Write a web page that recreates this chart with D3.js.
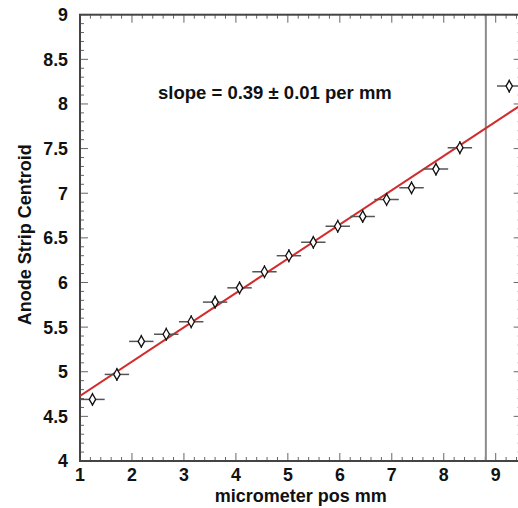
<!DOCTYPE html>
<html><head><meta charset="utf-8">
<script src="https://cdn.jsdelivr.net/npm/d3@7"></script>
<style>
html,body{margin:0;padding:0;background:#fff;}
svg{display:block;font-family:Arial,"Liberation Sans",Helvetica,sans-serif;}
</style></head>
<body>
<svg id="c" width="518" height="508"></svg>
<script>
// ---- data ----
const xPos   = [1.24, 1.71, 2.18, 2.66, 3.14, 3.60, 4.07, 4.55, 5.02, 5.49, 5.96, 6.44, 6.90, 7.38, 7.85, 8.31, 9.26];
const yCent  = [4.69, 4.97, 5.34, 5.42, 5.56, 5.78, 5.94, 6.12, 6.30, 6.45, 6.63, 6.74, 6.93, 7.06, 7.27, 7.51, 8.20];
const xErr   = [0.235,0.235,0.235,0.235,0.235,0.235,0.235,0.235,0.235,0.235,0.235,0.235,0.235,0.235,0.235,0.235,0.235];
const yErr   = [0.03, 0.03, 0.03, 0.03, 0.03, 0.03, 0.03, 0.03, 0.03, 0.03, 0.03, 0.03, 0.03, 0.03, 0.03, 0.03, 0.03];
const fitIntercept = 4.346;
const fitSlope = 0.384;
const fitRange = [1, 9.5];
const cutX = 8.81;
const xTicks = [1, 2, 3, 4, 5, 6, 7, 8, 9];
const yTicks = [4, 4.5, 5, 5.5, 6, 6.5, 7, 7.5, 8, 8.5, 9];
const slopeLabel = "slope = 0.39 \u00b1 0.01 per mm";
const xTitle = "micrometer pos mm";
const yTitle = "Anode Strip Centroid";

// ---- layout ----
const L = 80, R = 521.7, T = 14.7, B = 461;
const svg = d3.select("#c");
const x = d3.scaleLinear().domain([1, 9.5]).range([L, R]);
const y = d3.scaleLinear().domain([4, 9]).range([B, T]);

const frameCol = "#444";
const minorX = d3.range(1, 9.5001, 0.2).map(v => +v.toFixed(2));
const minorY = d3.range(4, 9.0001, 0.1).map(v => +v.toFixed(2));

svg.append("clipPath").attr("id","pc").append("rect")
  .attr("x", L).attr("y", T).attr("width", R - L).attr("height", B - T);

// ticks (ROOT style, inside)
const tickG = svg.append("g").attr("stroke", "#666").attr("stroke-width", 1);
minorX.forEach(v => {
  const major = xTicks.includes(v);
  const len = major ? 8 : 4;
  tickG.append("line").attr("x1", x(v)).attr("x2", x(v)).attr("y1", B).attr("y2", B - len);
  tickG.append("line").attr("x1", x(v)).attr("x2", x(v)).attr("y1", T).attr("y2", T + len);
});
minorY.forEach(v => {
  const major = yTicks.includes(v);
  const len = major ? 8 : 4;
  tickG.append("line").attr("y1", y(v)).attr("y2", y(v)).attr("x1", L).attr("x2", L + len);
  tickG.append("line").attr("y1", y(v)).attr("y2", y(v)).attr("x1", R).attr("x2", R - len);
});

// cut line
svg.append("line").attr("x1", x(cutX)).attr("x2", x(cutX)).attr("y1", T).attr("y2", B)
  .attr("stroke", "#8a8a8a").attr("stroke-width", 2);

// frame
svg.append("rect").attr("x", L).attr("y", T).attr("width", R - L).attr("height", B - T)
  .attr("fill", "none").attr("stroke", frameCol).attr("stroke-width", 2);

// tick labels
const lab = svg.append("g").attr("fill", "#111").attr("font-size", 17.8).attr("font-weight", "bold");
xTicks.forEach(v => {
  lab.append("text").attr("x", x(v)).attr("y", 480.5).attr("text-anchor", "middle").text(v);
});
yTicks.forEach(v => {
  lab.append("text").attr("x", 68).attr("y", y(v)).attr("dy", "0.36em").attr("text-anchor", "end").text(v);
});

// titles
svg.append("text").attr("x", (L + R) / 2).attr("y", 501.5).attr("text-anchor", "middle")
  .attr("font-size", 18).attr("font-weight", "bold").attr("fill", "#111").text(xTitle);
svg.append("text").attr("transform", `translate(31,${(T + B) / 2 - 3}) rotate(-90)`).attr("text-anchor", "middle")
  .attr("font-size", 18).attr("font-weight", "bold").attr("fill", "#111").text(yTitle);

// fit line
const pg = svg.append("g").attr("clip-path", "url(#pc)");
pg.append("line")
  .attr("x1", x(fitRange[0])).attr("y1", y(fitIntercept + fitSlope * fitRange[0]))
  .attr("x2", x(fitRange[1])).attr("y2", y(fitIntercept + fitSlope * fitRange[1]))
  .attr("stroke", "#d22c2c").attr("stroke-width", 2);

// points with error bars
const pts = xPos.map((v, i) => ({x: v, y: yCent[i], ex: xErr[i], ey: yErr[i]}));
const pt = pg.selectAll("g.pt").data(pts).enter().append("g").attr("class", "pt");
pt.append("line").attr("x1", d => x(d.x - d.ex)).attr("x2", d => x(d.x + d.ex))
  .attr("y1", d => y(d.y)).attr("y2", d => y(d.y)).attr("stroke", "#555").attr("stroke-width", 1.5);
pt.append("line").attr("x1", d => x(d.x)).attr("x2", d => x(d.x))
  .attr("y1", d => y(d.y - d.ey) + 4).attr("y2", d => y(d.y + d.ey) - 4).attr("stroke", "#333").attr("stroke-width", 1.2);
pt.append("path")
  .attr("d", d => { const cx = x(d.x), cy = y(d.y); return `M${cx},${cy-5.5}L${cx+3.2},${cy}L${cx},${cy+5.5}L${cx-3.2},${cy}Z`; })
  .attr("fill", "#fff").attr("stroke", "#111").attr("stroke-width", 1.3);

// slope label
svg.append("text").attr("x", 158).attr("y", 99).attr("font-size", 18.5).attr("font-weight", "bold")
  .attr("fill", "#111").text(slopeLabel);
</script>
</body></html>
